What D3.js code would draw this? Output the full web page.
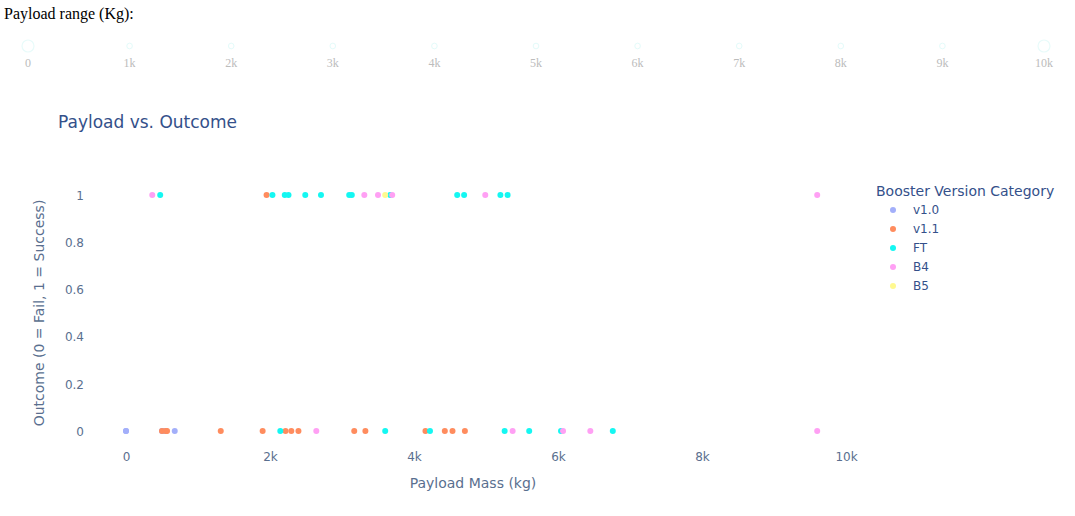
<!DOCTYPE html>
<html>
<head>
<meta charset="utf-8">
<script src="https://cdn.jsdelivr.net/npm/d3@7"></script>
<style>
  html, body { margin: 0; padding: 0; background: #fff; }
  svg { display: block; }
</style>
</head>
<body>
<div id="chart"></div>
<script>
// ---- data ----
const categories = ["v1.0", "v1.1", "FT", "B4", "B5"];
const categoryColors = ["#A3AFFA", "#FF8C5E", "#14F7F2", "#FFA0F4", "#FFF990"];

// payload mass (kg) and outcome (class) for each booster category
const payloadV10 = [0, 0, 500, 525, 677];
const outcomeV10 = [0, 0, 0, 0, 0];

const payloadV11 = [500, 553, 570, 1316, 1898, 2216, 2296, 2395, 3170, 3325, 4159, 4428, 4535, 4707, 1952];
const outcomeV11 = [0, 0, 0, 0, 0, 0, 0, 0, 0, 0, 0, 0, 0, 0, 1];

const payloadFT = [2143, 3600, 4222, 5259, 5600, 6042, 6761, 475, 2034, 2205, 2257, 2490, 2708, 3100, 3136, 3669, 4600, 4696, 5200, 5300];
const outcomeFT = [0, 0, 0, 0, 0, 0, 0, 1, 1, 1, 1, 1, 1, 1, 1, 1, 1, 1, 1, 1];

const payloadB4 = [2643, 5370, 6070, 6449, 9600, 365, 3310, 3500, 3697, 4990, 9600];
const outcomeB4 = [0, 0, 0, 0, 0, 1, 1, 1, 1, 1, 1];

const payloadB5 = [3600];
const outcomeB5 = [1];

const sliderMarks = [0, 1000, 2000, 3000, 4000, 5000, 6000, 7000, 8000, 9000, 10000];
const sliderLabels = ["0", "1k", "2k", "3k", "4k", "5k", "6k", "7k", "8k", "9k", "10k"];
const sliderValue = [0, 10000];

const xTicks = [0, 2000, 4000, 6000, 8000, 10000];
const xTickLabels = ["0", "2k", "4k", "6k", "8k", "10k"];
const yTicks = [0, 0.2, 0.4, 0.6, 0.8, 1];
const yTickLabels = ["0", "0.2", "0.4", "0.6", "0.8", "1"];

const chartTitle = "Payload vs. Outcome";
const xTitle = "Payload Mass (kg)";
const yTitle = "Outcome (0 = Fail, 1 = Success)";
const legendTitle = "Booster Version Category";
const sliderCaption = "Payload range (Kg):";

// ---- build ----
const series = [
  { name: categories[0], color: categoryColors[0], x: payloadV10, y: outcomeV10 },
  { name: categories[1], color: categoryColors[1], x: payloadV11, y: outcomeV11 },
  { name: categories[2], color: categoryColors[2], x: payloadFT, y: outcomeFT },
  { name: categories[3], color: categoryColors[3], x: payloadB4, y: outcomeB4 },
  { name: categories[4], color: categoryColors[4], x: payloadB5, y: outcomeB5 }
];

const W = 1075, H = 516;
const FONT = "'DejaVu Sans', Verdana, sans-serif";
const TEXT = "#34508a";
const TICK = "#5a6f8f";

const svg = d3.select("#chart").append("svg").attr("width", W).attr("height", H);

// caption
svg.append("text").attr("x", 4).attr("y", 19)
  .attr("font-family", "'Liberation Serif', 'Times New Roman', serif")
  .attr("font-size", 16).attr("fill", "#000").text(sliderCaption);

// range slider (very faint, as in the reference)
const sx = d3.scaleLinear().domain([0, 10000]).range([28, 1044]);
const slider = svg.append("g");
slider.selectAll("circle.dot").data(sliderMarks).join("circle").attr("class", "dot")
  .attr("cx", d => sx(d)).attr("cy", 46).attr("r", 2.8)
  .attr("fill", "#fff").attr("stroke", "#e4fbfa").attr("stroke-width", 1);
slider.selectAll("circle.handle").data(sliderValue).join("circle").attr("class", "handle")
  .attr("cx", d => sx(d)).attr("cy", 46).attr("r", 6)
  .attr("fill", "#fff").attr("stroke", "#e8fbfa").attr("stroke-width", 1.2);
slider.selectAll("text").data(sliderMarks).join("text")
  .attr("x", d => sx(d)).attr("y", 67).attr("text-anchor", "middle")
  .attr("font-family", "'Liberation Serif', 'Times New Roman', serif")
  .attr("font-size", 12).attr("fill", "#bcbcbc")
  .text((d, i) => sliderLabels[i]);

// scatter
const x = d3.scaleLinear().domain([0, 10000]).range([126, 846]);
const y = d3.scaleLinear().domain([0, 1]).range([431, 195]);

svg.append("text").attr("x", 58).attr("y", 128)
  .attr("font-family", FONT).attr("font-size", 17).attr("fill", TEXT).text(chartTitle);

const xAxis = d3.axisBottom(x).tickValues(xTicks).tickSize(0).tickFormat((d, i) => xTickLabels[i]);
const gx = svg.append("g").attr("transform", "translate(0,450)").call(xAxis);
gx.select(".domain").remove();
gx.selectAll("text").attr("font-family", FONT).attr("font-size", 12).attr("fill", TICK).attr("dy", "0.71em").attr("y", 2);

const yAxis = d3.axisLeft(y).tickValues(yTicks).tickSize(0).tickFormat((d, i) => yTickLabels[i]);
const gy = svg.append("g").attr("transform", "translate(84,0)").call(yAxis);
gy.select(".domain").remove();
gy.selectAll("text").attr("font-family", FONT).attr("font-size", 12).attr("fill", TICK).attr("x", 0).attr("dy", "0.35em");

svg.append("text").attr("x", 473).attr("y", 488).attr("text-anchor", "middle")
  .attr("font-family", FONT).attr("font-size", 14).attr("fill", TICK).text(xTitle);
svg.append("text").attr("transform", "translate(44,313) rotate(-90)").attr("text-anchor", "middle")
  .attr("font-family", FONT).attr("font-size", 14).attr("fill", TICK).text(yTitle);

const pts = svg.append("g");
series.forEach(s => {
  pts.append("g").selectAll("circle").data(s.x.map((v, i) => [v, s.y[i]])).join("circle")
    .attr("cx", d => x(d[0])).attr("cy", d => y(d[1])).attr("r", 3)
    .attr("fill", s.color);
});

// legend
const lg = svg.append("g");
lg.append("text").attr("x", 876).attr("y", 196)
  .attr("font-family", FONT).attr("font-size", 14).attr("fill", TEXT).text(legendTitle);
const items = lg.selectAll("g.item").data(series).join("g").attr("class", "item")
  .attr("transform", (d, i) => `translate(0,${210 + i * 19})`);
items.append("circle").attr("cx", 893).attr("cy", 0).attr("r", 3).attr("fill", d => d.color);
items.append("text").attr("x", 913).attr("y", 0).attr("dy", "0.35em")
  .attr("font-family", FONT).attr("font-size", 12).attr("fill", TEXT).text(d => d.name);
</script>
</body>
</html>
